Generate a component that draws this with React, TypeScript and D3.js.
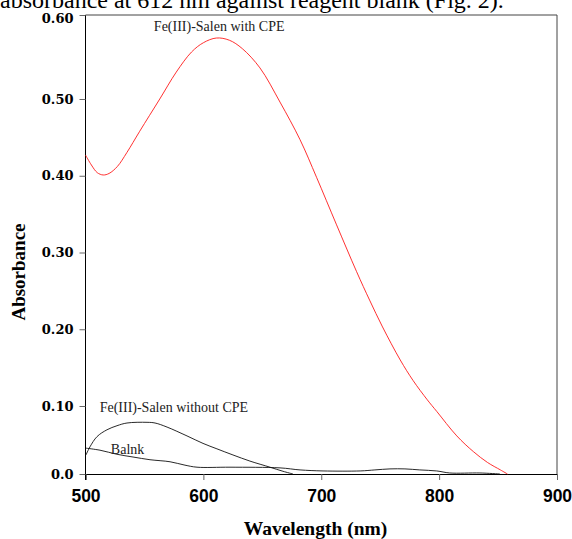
import React, { useRef, useEffect } from "react";
import * as d3 from "d3";

// wavelength (nm) / absorbance
const withCpeWl = [500, 505, 510, 515, 520, 527, 535, 546, 563, 577, 590, 600, 611, 622, 633, 648, 665, 682, 696, 713, 730, 741, 752, 767, 778, 790, 798, 815, 829, 841, 852, 858];
const withCpeAbs = [0.427, 0.414, 0.404, 0.401, 0.403, 0.412, 0.43, 0.458, 0.5, 0.532, 0.556, 0.567, 0.5726, 0.57, 0.56, 0.537, 0.496, 0.447, 0.398, 0.336, 0.275, 0.238, 0.203, 0.16, 0.133, 0.108, 0.092, 0.056, 0.033, 0.017, 0.006, 0.0];

const withoutCpeWl = [500.4, 503.8, 509.8, 518.2, 526.7, 535.2, 552.2, 559, 569.2, 586.1, 599.7, 611.5, 625.1, 639.5, 656.5, 667.5, 676];
const withoutCpeAbs = [0.028, 0.04, 0.055, 0.065, 0.071, 0.075, 0.076, 0.075, 0.069, 0.056, 0.045, 0.037, 0.028, 0.019, 0.01, 0.004, 0.0];

const blankWl = [500.4, 512.3, 526.7, 540.3, 554.7, 571.7, 584.4, 594.6, 622.6, 665, 682, 701.5, 733, 745.5, 758.3, 771, 783.6, 798, 809, 834.6, 851.6];
const blankAbs = [0.038, 0.035, 0.029, 0.025, 0.021, 0.018, 0.013, 0.01, 0.01, 0.009, 0.006, 0.0045, 0.0045, 0.006, 0.0075, 0.0075, 0.006, 0.0045, 0.0015, 0.0015, 0.0];

const xTicks = [500, 600, 700, 800, 900];
const yTicks = [0, 0.1, 0.2, 0.3, 0.4, 0.5, 0.6];
const yTickLabels = ["0.0", "0.10", "0.20", "0.30", "0.40", "0.50", "0.60"];

const noteTexts = ["Fe(III)-Salen with CPE", "Fe(III)-Salen without CPE", "Balnk"];
const noteWl = [558, 512, 521.5];
const noteAbs = [0.581, 0.0915, 0.03];

function SpectraChart() {
  const svgRef = useRef<SVGSVGElement>(null);

  useEffect(() => {
    const svg = d3.select(svgRef.current);
    svg.selectAll("*").remove();

    const x = d3.scaleLinear().domain([500, 900]).range([85.5, 557]);
    // the printed y axis is not evenly spaced, so the scale is piecewise
    const y = d3.scaleLinear().domain([0, 0.1, 0.5, 0.6]).range([474, 406, 99, 15]);

    // heading text cut by the top of the image
    svg.append("text")
      .attr("x", 0)
      .attr("y", 8)
      .attr("font-family", "Liberation Serif")
      .attr("font-size", 24)
      .attr("fill", "#000")
      .text("absorbance at 612 nm against reagent blank (Fig. 2).");

    // frame
    svg.append("path")
      .attr("d", `M${x(500)},${y(0.6)}H${x(900)}V${y(0)}`)
      .attr("fill", "none")
      .attr("stroke", "#444")
      .attr("stroke-width", 1);

    const xAxis = svg.append("g").attr("transform", `translate(0,${y(0)})`);
    xAxis.call(d3.axisBottom(x).tickValues(xTicks).tickSize(6).tickPadding(10).tickFormat(d3.format("d")));
    xAxis.select(".domain").attr("stroke", "#000");
    xAxis.selectAll(".tick line").attr("stroke", "#666");
    xAxis.selectAll("text")
      .attr("font-family", "Liberation Sans")
      .attr("font-weight", "bold")
      .attr("font-size", 17.5)
      .attr("fill", "#000");

    const yAxis = svg.append("g").attr("transform", `translate(${x(500)},0)`);
    yAxis.call(d3.axisLeft(y).tickValues(yTicks).tickSize(6).tickPadding(6)
      .tickFormat((d, i) => yTickLabels[i]));
    yAxis.select(".domain").attr("stroke", "#000").attr("d", `M0,${y(0.6)}V${y(0) + 6}`);
    yAxis.selectAll(".tick line").attr("stroke", "#666");
    yAxis.selectAll("text")
      .attr("font-family", "DejaVu Serif")
      .attr("font-weight", "bold")
      .attr("font-size", 13)
      .attr("fill", "#000");
    // top label sits a little below its tick in the original
    yAxis.selectAll<SVGTextElement, number>("text")
      .filter(d => d === 0.6)
      .attr("dy", "0.55em");

    const lineGen = d3.line<[number, number]>()
      .x(d => x(d[0]))
      .y(d => y(d[1]))
      .curve(d3.curveCatmullRom);

    const series = [
      { wl: withCpeWl, abs: withCpeAbs, color: "#ff1a1a" },
      { wl: withoutCpeWl, abs: withoutCpeAbs, color: "#111" },
      { wl: blankWl, abs: blankAbs, color: "#111" },
    ];
    series.forEach(s => {
      const pts = s.wl.map((w, i) => [w, s.abs[i]] as [number, number]);
      svg.append("path")
        .attr("d", lineGen(pts))
        .attr("fill", "none")
        .attr("stroke", s.color)
        .attr("stroke-width", 0.9);
    });

    noteTexts.forEach((t, i) => {
      svg.append("text")
        .attr("x", x(noteWl[i]))
        .attr("y", y(noteAbs[i]))
        .attr("font-family", "Liberation Serif")
        .attr("font-size", 14)
        .attr("fill", "#222")
        .text(t);
    });

    svg.append("text")
      .attr("transform", `translate(25,272) rotate(-90)`)
      .attr("text-anchor", "middle")
      .attr("font-family", "Liberation Serif")
      .attr("font-weight", "bold")
      .attr("font-size", 19)
      .attr("fill", "#000")
      .text("Absorbance");

    svg.append("text")
      .attr("x", 315.5)
      .attr("y", 535)
      .attr("text-anchor", "middle")
      .attr("font-family", "Liberation Serif")
      .attr("font-weight", "bold")
      .attr("font-size", 19.5)
      .attr("fill", "#000")
      .text("Wavelength (nm)");
  }, []);

  return (
    <svg
      ref={svgRef}
      width={572}
      height={539}
      style={{ position: "absolute", left: 0, top: 0, background: "#fff" }}
    />
  );
}

export default function App() {
  return <SpectraChart />;
}
